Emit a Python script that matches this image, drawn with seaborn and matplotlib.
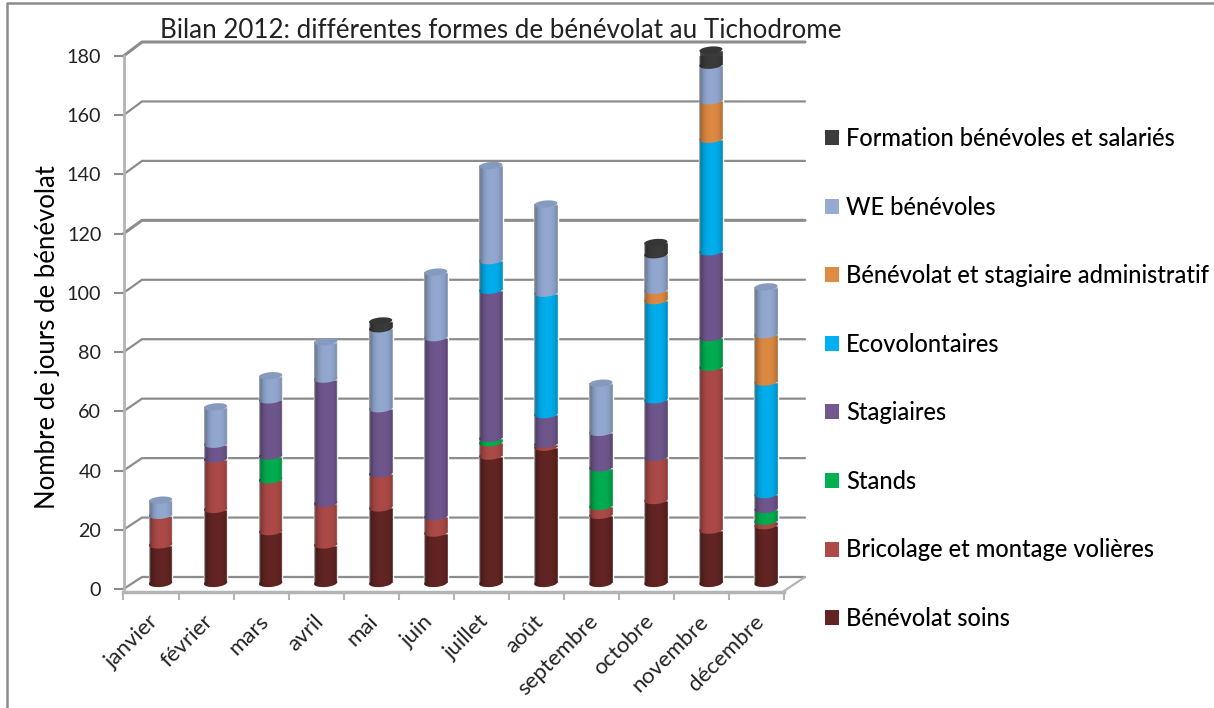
import numpy as np
import matplotlib
matplotlib.use('Agg')
import matplotlib.pyplot as plt
import seaborn as sns
from matplotlib.patches import Ellipse, Patch, Rectangle
from matplotlib.path import Path
from matplotlib.lines import Line2D
from matplotlib.transforms import Affine2D, IdentityTransform
from matplotlib.colors import to_rgb

months = ['janvier', 'février', 'mars', 'avril', 'mai', 'juin', 'juillet',
          'août', 'septembre', 'octobre', 'novembre', 'décembre']

soins = [13, 25, 17.5, 13, 25.5, 17, 43, 46, 23, 28, 18, 19.5]
bricolage = [10, 17, 17.5, 14, 11.5, 5.5, 4.5, 1, 3, 14.5, 55, 1.5]
stands = [0, 0, 8, 0, 0, 0, 1.5, 0, 13, 0, 10, 4]
stagiaires = [0, 5, 19, 42, 22, 60.5, 50, 10, 12, 19.5, 29, 5]
ecovolontaires = [0, 0, 0, 0, 0, 0, 10, 41, 0, 33.5, 38, 38]
administratif = [0, 0, 0, 0, 0, 0, 0, 0, 0, 3.5, 13, 16]
we_benevoles = [5, 12.5, 8, 12.5, 27, 22, 32, 30, 16.5, 12, 12, 16]
formation = [0, 0, 0, 0, 2.5, 0, 0, 0, 0, 4, 5, 0]

series = [soins, bricolage, stands, stagiaires, ecovolontaires, administratif, we_benevoles, formation]
series_names = ['Bénévolat soins', 'Bricolage et montage volières', 'Stands', 'Stagiaires',
                'Ecovolontaires', 'Bénévolat et stagiaire administratif', 'WE bénévoles',
                'Formation bénévoles et salariés']
series_colors = ['#632523', '#AE4B48', '#00B050', '#71588F', '#00B0F0', '#E08B43', '#95ABD3', '#3C3C3C']

y_ticks = [0, 20, 40, 60, 80, 100, 120, 140, 160, 180]

W, H = 1214, 708
BAR_DX, BAR_DY = 9.5, 6  # bars stand in the middle of the 3d floor
GRID = '#8c8c8c'
AXIS = '#b4b4b4'

sns.set_style('white')
plt.rcParams['font.family'] = ['Lato', 'DejaVu Sans']

fig = plt.figure(figsize=(W / 100, H / 100), dpi=100)
ax = fig.add_axes([123.5 / W, (H - 589) / H, 660.5 / W, 533 / H])

bottom = np.zeros(len(months))
for vals, col in zip(series, series_colors):
    sns.barplot(x=months, y=vals, bottom=bottom, color=col, saturation=1, width=0.43,
                errorbar=None, ax=ax, zorder=3)
    bottom = bottom + np.array(vals)

ax.set_xlim(-0.5, 11.5)
ax.set_ylim(0, 180)
ax.set_xlabel('')

# spines first: set_position resets the ticks
sns.despine(ax=ax, top=True, right=True)
ax.spines['left'].set_color(AXIS)
ax.spines['left'].set_linewidth(2)
ax.spines['bottom'].set_color(AXIS)
ax.spines['bottom'].set_linewidth(2.5)
ax.spines['bottom'].set_position(('outward', 2))

ax.set_yticks(y_ticks)
ax.tick_params(axis='y', length=7, width=1.5, color=GRID, pad=9, labelsize=14.2, labelcolor='#222222', left=True)
ax.set_ylabel('Nombre de jours de bénévolat', fontsize=18.5, color='black', labelpad=5, y=0.472)

# month labels sit between the ticks, ticks mark the category edges
ax.set_xticks(np.arange(-0.5, 12), minor=True)
ax.tick_params(axis='x', which='minor', length=6, width=1.5, color=AXIS, bottom=True)
ax.set_xticks(np.arange(12))
ax.set_xticklabels(months)
ax.tick_params(axis='x', which='major', length=0, pad=14)
plt.setp(ax.get_xticklabels(), rotation=45, ha='right', rotation_mode='anchor', fontsize=16, color='#222222')
for lab in ax.get_xticklabels():
    lab.set_transform(lab.get_transform() + Affine2D().translate(-3, 0))

# 3d back wall: grid lines and their connectors to the axis
for t in y_ticks:
    x0, y0 = ax.transData.transform((-0.5, t))
    x1, y1 = ax.transData.transform((11.5, t))
    back_y = y0 + 12 + t / 180 * 2
    lw = 2.2 if t in (120, 180) else 1.6
    ax.add_line(Line2D([x0, x0 + 18.5, x1 + 21], [y0, back_y, back_y], color=GRID, lw=lw,
                       transform=IdentityTransform(), zorder=1, clip_on=False))
# floor edge on the right
x1, y1 = ax.transData.transform((11.5, 0))
ax.add_line(Line2D([x1, x1 + 21], [y1 - 2, y1 + 12], color=AXIS, lw=1.6,
                   transform=IdentityTransform(), zorder=1, clip_on=False))

offset = ax.transData + Affine2D().translate(BAR_DX, BAR_DY)
shade = np.zeros((1, 64, 4))
u = np.linspace(-1, 1, 64)
shade[0, :, 3] = np.clip(0.02 + 0.30 * np.abs(u - 0.1) ** 3, 0, 1)

n_bars = len(months)
tops = {}
bases = {}
z = 4
for s, col in enumerate(series_colors):
    for i in range(n_bars):
        bar = ax.patches[s * n_bars + i]
        bar.set_transform(offset)
        bar.set_clip_on(False)
        bar.set_zorder(z)
        if series[s][i] <= 0:
            continue
        x = bar.get_x() + bar.get_width() / 2
        px, py = offset.transform((x, bar.get_y()))
        # rounded lower edge of each segment
        ax.add_patch(Ellipse((px, py), 23.2, 8, angle=5, facecolor=col, edgecolor='none',
                             transform=IdentityTransform(), zorder=z, clip_on=False))
        tops[i] = (px, offset.transform((x, bar.get_y() + bar.get_height()))[1], col)
        bases.setdefault(i, py)
    z += 1

for i, (px, py, col) in tops.items():
    cap_col = tuple(c * 0.9 for c in to_rgb(col))
    ax.add_patch(Ellipse((px, py), 23.2, 7, angle=5, facecolor=cap_col, edgecolor='none',
                         transform=IdentityTransform(), zorder=z + 1, clip_on=False))
    body = Rectangle((px - 11.8, bases[i]), 23.6, py - bases[i])
    low = Ellipse((px, bases[i]), 23.2, 8, angle=5)
    path = Path.make_compound_path(
        body.get_patch_transform().transform_path(body.get_path()),
        low.get_patch_transform().transform_path(low.get_path()))
    im = ax.imshow(shade, extent=(px - 11.8, px + 11.8, bases[i] - 6, py), aspect='auto',
                   transform=IdentityTransform(), zorder=z, interpolation='bilinear')
    im.set_clip_path(path, IdentityTransform())

handles = [Patch(facecolor=c, edgecolor='none') for c in series_colors][::-1]
fig.legend(handles, series_names[::-1], loc='upper left', bbox_to_anchor=(825 / W, 1 - 127 / H),
           frameon=False, prop={'size': 17, 'weight': 'medium'}, handlelength=0.6, handleheight=0.6,
           handletextpad=0.3, labelspacing=1.93, borderpad=0, borderaxespad=0, labelcolor='black')

fig.text(501 / W, 1 - 30 / H, 'Bilan 2012: différentes formes de bénévolat au Tichodrome',
         ha='center', va='center', fontsize=18.75, color='#222222')

# chart frame: only the left and top edges fall inside the picture
fig.add_artist(Line2D([7, 7, W], [0, H - 3, H - 3], transform=IdentityTransform(),
                      color='#8c8c8c', lw=1.8))

fig.savefig('out.png', dpi=100)
